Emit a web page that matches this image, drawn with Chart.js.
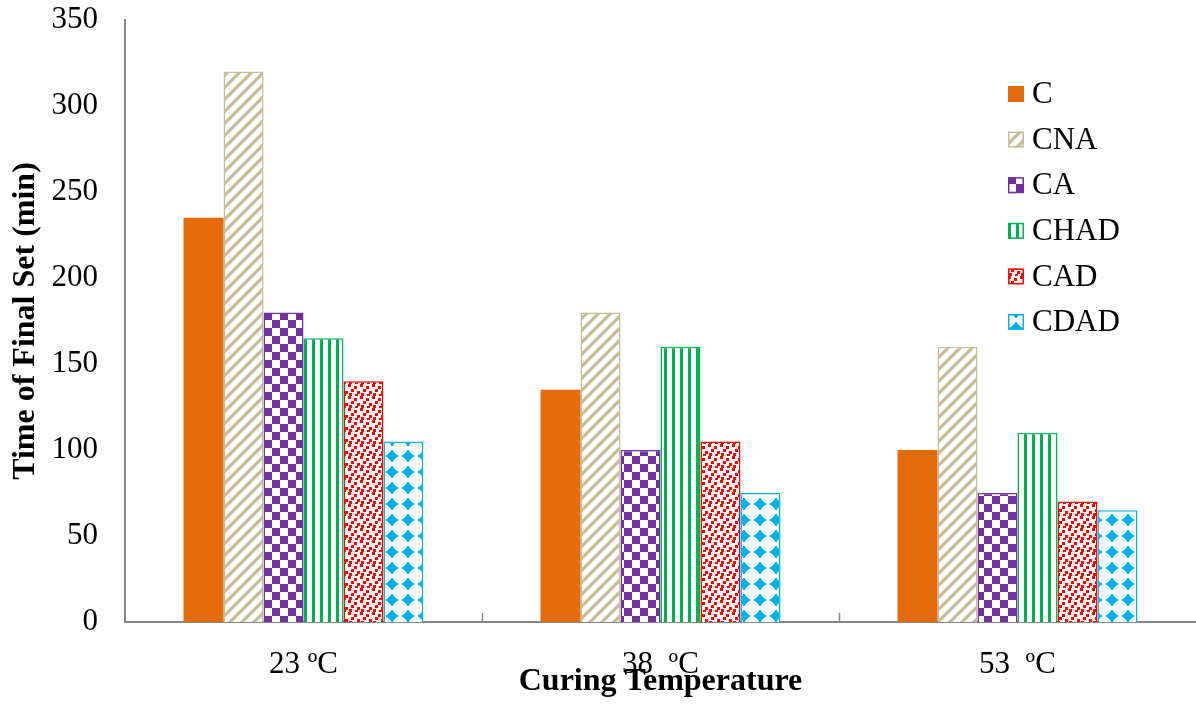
<!DOCTYPE html>
<html>
<head>
<meta charset="utf-8">
<script src="https://cdn.jsdelivr.net/npm/chart.js@4/dist/chart.umd.min.js"></script>
<style>
  html, body { margin: 0; padding: 0; background: #ffffff; }
  #wrap { width: 1196px; height: 706px; position: relative; }
</style>
</head>
<body>
<div id="wrap"><canvas id="chart"></canvas></div>
<script>
// Final set time (min) of each mix at three curing temperatures
const temperatures = ['23 ºC', '38  ºC', '53  ºC'];
const mixNames = ['C', 'CNA', 'CA', 'CHAD', 'CAD', 'CDAD'];
const valuesC    = [235, 135, 100];
const valuesCNA  = [320, 180, 160];
const valuesCA   = [180, 100, 75];
const valuesCHAD = [165, 160, 110];
const valuesCAD  = [140, 105, 70];
const valuesCDAD = [105, 75, 65];
const yTicks = [0, 50, 100, 150, 200, 250, 300, 350];

const SERIF = '"Liberation Serif", "Times New Roman", serif';

// ---- fill patterns -------------------------------------------------------
function tile(w, h, draw) {
  const c = document.createElement('canvas');
  c.width = w; c.height = h;
  const g = c.getContext('2d');
  g.fillStyle = '#ffffff';
  g.fillRect(0, 0, w, h);
  draw(g);
  return g.createPattern(c, 'repeat');
}

const colors = {
  C: '#E36C09', CNA: '#C4BD97', CA: '#7030A0',
  CHAD: '#00B050', CAD: '#FF0000', CDAD: '#00B0F0'
};

const fills = {
  C: colors.C,
  // "/" diagonal stripes
  CNA: tile(12, 12, g => {
    g.strokeStyle = colors.CNA; g.lineWidth = 3.2;
    g.beginPath();
    g.moveTo(-3, 15); g.lineTo(15, -3);
    g.moveTo(-3, 3); g.lineTo(3, -3);
    g.moveTo(9, 15); g.lineTo(15, 9);
    g.stroke();
  }),
  // checkerboard
  CA: tile(16, 16, g => {
    g.fillStyle = colors.CA;
    g.fillRect(0, 0, 8, 8);
    g.fillRect(8, 8, 8, 8);
  }),
  // vertical stripes
  CHAD: tile(8, 4, g => {
    g.fillStyle = colors.CHAD;
    g.fillRect(0, 0, 3, 4);
  }),
  // small confetti squares
  CAD: tile(12, 12, g => {
    g.fillStyle = colors.CAD;
    [[0, 0], [6, 2], [3, 5], [9, 7], [1, 9], [7, 10]].forEach(([x, y]) => g.fillRect(x, y, 3, 3));
  }),
  // stepped diamonds
  CDAD: tile(16, 16, g => {
    g.fillStyle = colors.CDAD;
    const rows = [[3, 3], [4, 5], [5, 7], [6, 9], [7, 11], [8, 11], [9, 9], [10, 7], [11, 5], [12, 3]];
    rows.forEach(([y, w]) => g.fillRect(8 - w / 2, y, w, 1));
    g.fillRect(2, 7, 12, 2);
    g.fillRect(7, 2, 2, 12);
  })
};

const seriesValues = [valuesC, valuesCNA, valuesCA, valuesCHAD, valuesCAD, valuesCDAD];

const datasets = mixNames.map((name, i) => ({
  label: name,
  data: seriesValues[i],
  backgroundColor: fills[name],
  borderColor: colors[name],
  borderWidth: name === 'C' ? 0 : 1.5,
  barPercentage: 1.0,
  categoryPercentage: 0.672
}));

// Legend drawn inside the plot area, upper right
const innerLegend = {
  id: 'innerLegend',
  afterDraw(chart) {
    const { ctx, chartArea } = chart;
    const x0 = chartArea.right - 188;
    const y0 = chartArea.top + 74;
    const step = 45.6;
    ctx.save();
    ctx.font = '31px ' + SERIF;
    ctx.textBaseline = 'middle';
    chart.data.datasets.forEach((ds, i) => {
      const y = y0 + i * step;
      ctx.fillStyle = ds.backgroundColor;
      ctx.fillRect(x0, y - 8, 16, 16);
      if (ds.borderWidth > 0) {
        ctx.strokeStyle = ds.borderColor;
        ctx.lineWidth = 1.5;
        ctx.strokeRect(x0 + 0.75, y - 7.25, 14.5, 14.5);
      }
      ctx.fillStyle = '#000000';
      ctx.fillText(ds.label, x0 + 24, y + 1);
    });
    ctx.restore();
  }
};

// Short upward tick marks between the temperature groups
const groupTicks = {
  id: 'groupTicks',
  afterDraw(chart) {
    const { ctx, chartArea } = chart;
    const n = chart.data.labels.length;
    const w = (chartArea.right - chartArea.left) / n;
    ctx.save();
    ctx.strokeStyle = '#868686';
    ctx.lineWidth = 1.5;
    ctx.beginPath();
    for (let k = 1; k < n; k++) {
      const x = Math.round(chartArea.left + k * w) + 0.5;
      ctx.moveTo(x, chartArea.bottom);
      ctx.lineTo(x, chartArea.bottom - 9);
    }
    ctx.stroke();
    ctx.restore();
  }
};

new Chart(document.getElementById('chart'), {
  type: 'bar',
  data: { labels: temperatures, datasets },
  options: {
    responsive: true,
    maintainAspectRatio: false,
    animation: false,
    layout: { padding: { top: 20, right: 0, bottom: 0, left: 0 } },
    plugins: {
      legend: { display: false },
      tooltip: { enabled: false }
    },
    scales: {
      x: {
        grid: { display: true, drawOnChartArea: false, drawTicks: false },
        border: { color: '#868686', width: 2 },
        ticks: {
          color: '#000000',
          font: { family: SERIF, size: 31 },
          padding: 24
        },
        title: {
          display: true,
          text: 'Curing Temperature',
          color: '#000000',
          font: { family: SERIF, size: 32, weight: 'bold' },
          padding: { top: 0, bottom: 5 }
        },
        afterFit(scale) { scale.height = 84; }
      },
      y: {
        min: 0,
        max: 350,
        afterBuildTicks(scale) { scale.ticks = yTicks.map(v => ({ value: v })); },
        grid: { display: false, drawTicks: false },
        border: { color: '#868686', width: 2 },
        ticks: {
          color: '#000000',
          font: { family: SERIF, size: 31 },
          padding: 27
        },
        title: {
          display: true,
          text: 'Time of Final Set (min)',
          color: '#000000',
          font: { family: SERIF, size: 32, weight: 'bold' },
          padding: { top: 7, bottom: 0 }
        },
        afterFit(scale) {
          scale.width = 125;
          scale.paddingTop = 0;
          scale.paddingBottom = 0;
        }
      }
    }
  },
  plugins: [innerLegend, groupTicks]
});
</script>
</body>
</html>
